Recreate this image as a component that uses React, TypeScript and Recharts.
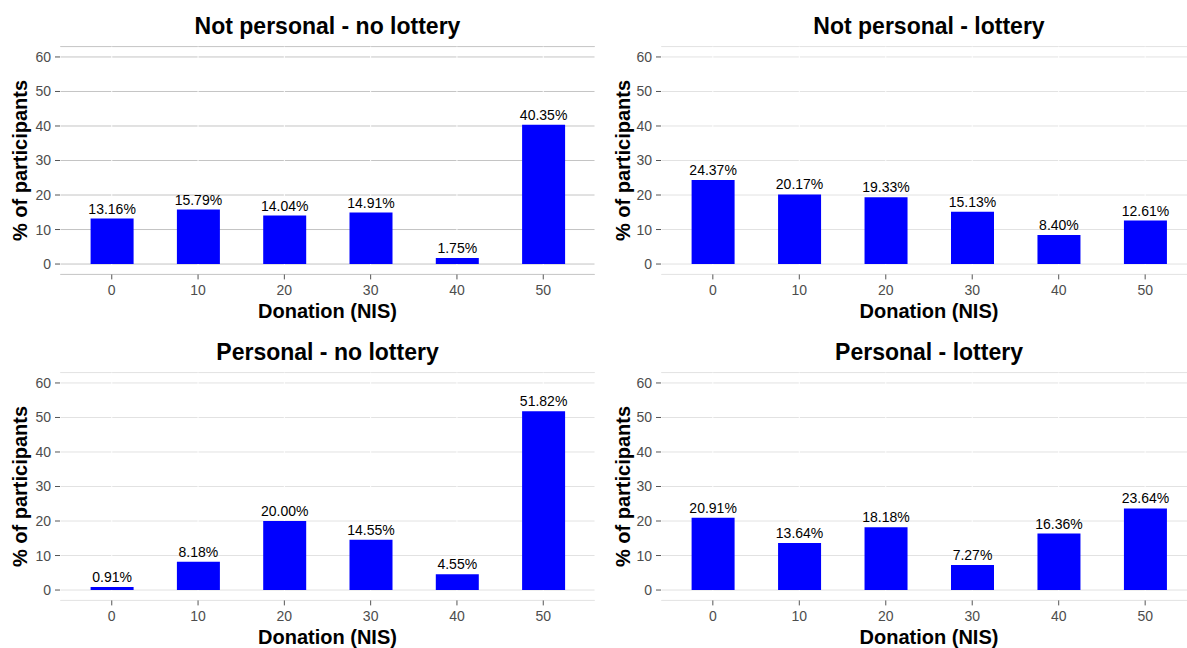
import React from 'react';
import { BarChart, Bar, XAxis, YAxis, CartesianGrid, LabelList } from 'recharts';

// donation amounts (NIS) on the x axis
const donations = ['0', '10', '20', '30', '40', '50'];
const yTicks = [0, 10, 20, 30, 40, 50, 60];

// % of participants per donation
const notPersonalNoLottery = [13.16, 15.79, 14.04, 14.91, 1.75, 40.35];
const notPersonalLottery = [24.37, 20.17, 19.33, 15.13, 8.4, 12.61];
const personalNoLottery = [0.91, 8.18, 20.0, 14.55, 4.55, 51.82];
const personalLottery = [20.91, 13.64, 18.18, 7.27, 16.36, 23.64];

const BLUE = '#0000ff';
const PLOT_TOP = 46.6;
const PLOT_H = 227.8;

type PanelProps = {
  title: string;
  values: number[];
  left: number;
  top: number;
  width: number;
  height: number;
  axisWidth: number;
  labelOffset: number;
  gridColor: string;
};

const Panel = ({ title, values, left, top, width, height, axisWidth, labelOffset, gridColor }: PanelProps) => {
  const data = donations.map((d, i) => ({ donation: d, value: values[i] }));
  const xAxisHeight = height - PLOT_TOP - PLOT_H;
  const plotWidth = width - axisWidth - 5;

  return (
    <div style={{ position: 'absolute', left, top, width, height }}>
      <div
        style={{
          position: 'absolute',
          left: axisWidth,
          width: plotWidth,
          top: 12,
          lineHeight: '28px',
          fontSize: 23,
          fontWeight: 'bold',
          textAlign: 'center',
          color: '#000',
        }}
      >
        {title}
      </div>
      <BarChart
        width={width}
        height={height}
        data={data}
        margin={{ top: PLOT_TOP, right: 5, bottom: 0, left: 0 }}
      >
        <CartesianGrid horizontal={true} vertical={false} stroke={gridColor} strokeWidth={1} />
        <CartesianGrid horizontal={false} vertical={true} stroke="#ffffff" strokeWidth={1} />
        <XAxis
          dataKey="donation"
          type="category"
          axisLine={false}
          tickSize={5}
          tickMargin={6}
          tickLine={{ stroke: '#555' }}
          tick={{ fill: '#4d4d4d', fontSize: 14 }}
          padding={{ left: 8.6, right: 8.6 }}
          height={xAxisHeight}
          label={{
            value: 'Donation (NIS)',
            position: 'insideBottom',
            offset: xAxisHeight - 43.4,
            style: { fontSize: 20, fontWeight: 'bold', fill: '#000' },
          }}
        />
        <YAxis
          type="number"
          domain={[-3, 63]}
          ticks={yTicks}
          allowDataOverflow={true}
          axisLine={false}
          tickSize={5}
          tickMargin={4}
          tickLine={{ stroke: '#555' }}
          tick={{ fill: '#4d4d4d', fontSize: 14 }}
          width={axisWidth}
          label={{
            value: '% of participants',
            angle: -90,
            position: 'insideLeft',
            offset: labelOffset,
            style: { textAnchor: 'middle', fontSize: 20, fontWeight: 'bold', fill: '#000' },
          }}
        />
        <Bar dataKey="value" fill={BLUE} barSize={43} isAnimationActive={false}>
          <LabelList
            dataKey="value"
            position="top"
            formatter={(v: any) => `${Number(v).toFixed(2)}%`}
            fill="#000"
            fontSize={14}
          />
        </Bar>
      </BarChart>
    </div>
  );
};

export default function App() {
  return (
    <div
      style={{
        position: 'absolute',
        left: 0,
        top: 0,
        width: 1187,
        height: 648,
        overflow: 'hidden',
        background: '#fff',
        fontFamily: '"Liberation Sans", Arial, sans-serif',
      }}
    >
      <Panel title="Not personal - no lottery" values={notPersonalNoLottery}
        left={0} top={0} width={600} height={324} axisWidth={60} labelOffset={20} gridColor="#c4c4c4" />
      <Panel title="Not personal - lottery" values={notPersonalLottery}
        left={600} top={0} width={602} height={324} axisWidth={61} labelOffset={23} gridColor="#e2e2e2" />
      <Panel title="Personal - no lottery" values={personalNoLottery}
        left={0} top={326} width={600} height={322} axisWidth={60} labelOffset={20} gridColor="#e2e2e2" />
      <Panel title="Personal - lottery" values={personalLottery}
        left={600} top={326} width={602} height={322} axisWidth={61} labelOffset={23} gridColor="#e2e2e2" />
    </div>
  );
}
